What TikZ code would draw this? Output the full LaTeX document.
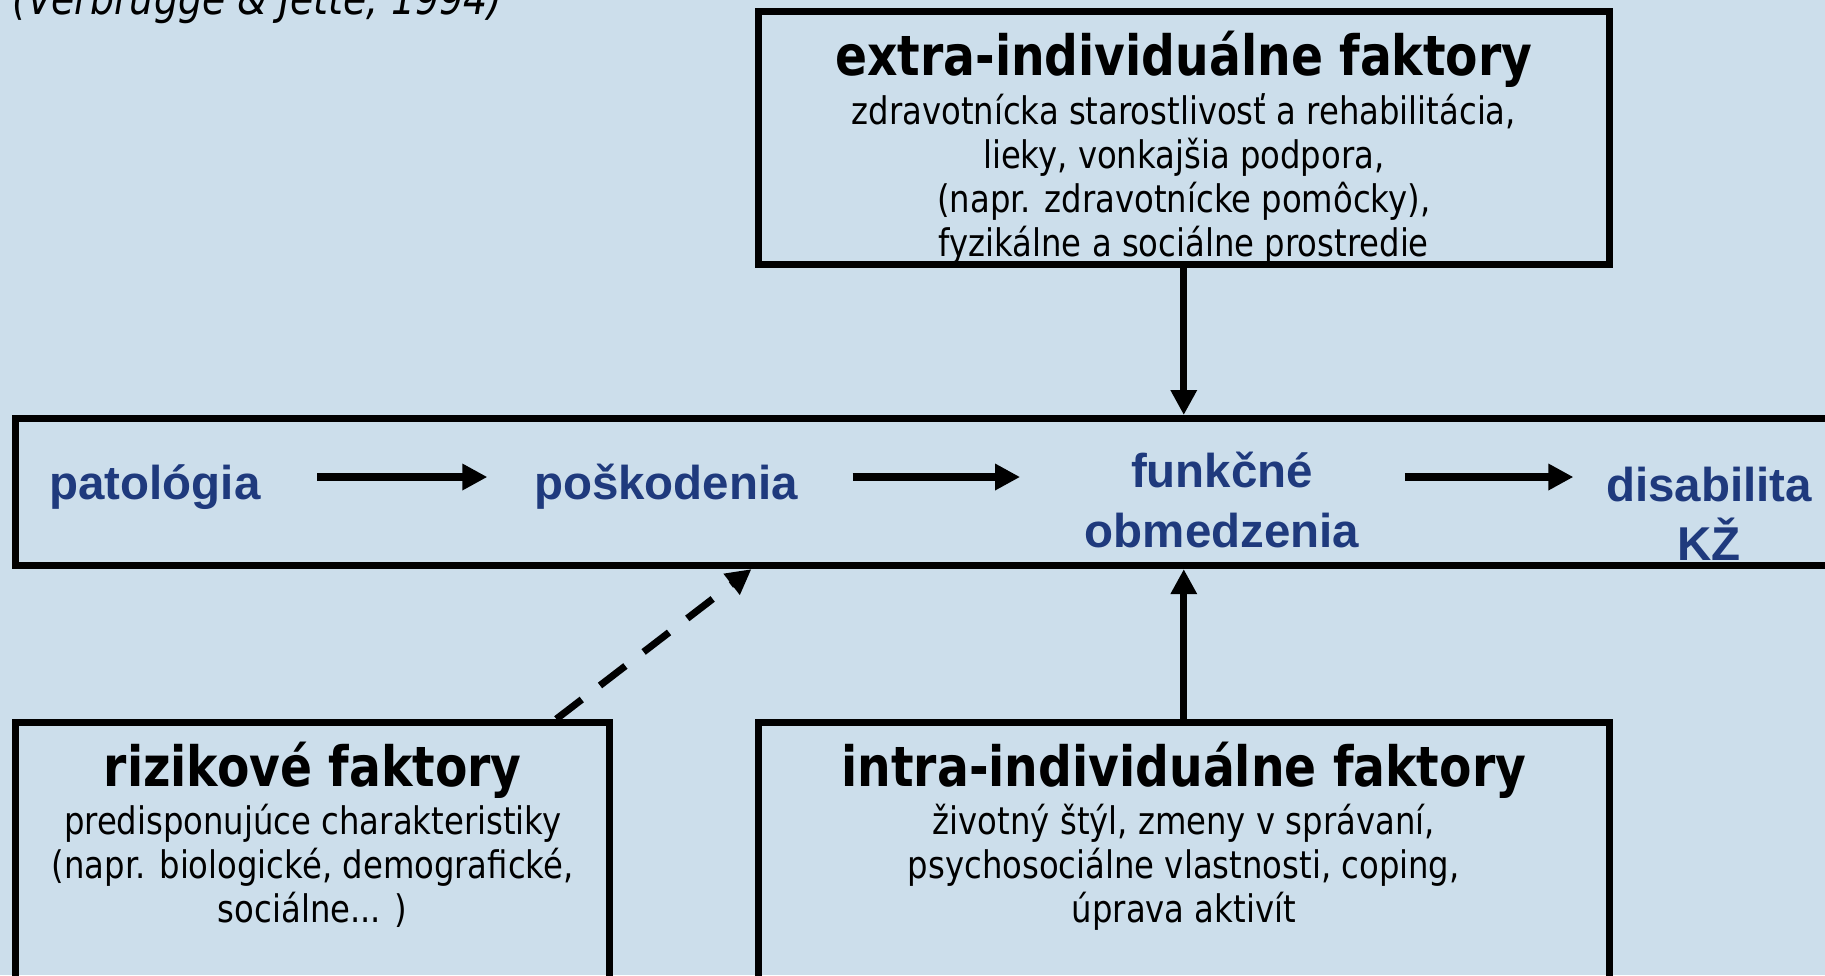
\documentclass[tikz,border=0pt]{standalone}
\usepackage{fontspec}
\setmainfont{DejaVu Sans}[FakeStretch=0.85]
\newfontfamily\labelfont{Liberation Sans}
\definecolor{slidebg}{HTML}{CCDEEB}
\definecolor{labelnavy}{HTML}{1F3A7D}
\usetikzlibrary{arrows.meta, positioning}
\tikzset{
	fbox/.style={draw=black, line width=2pt, align=center, inner xsep=0pt,
		inner ysep=0.2cm, font=\fontsize{10.8}{12.5}\selectfont},
	flabel/.style={text=labelnavy, align=center, inner sep=0pt,
		font=\labelfont\bfseries\fontsize{13.5}{16.8}\selectfont},
	farr/.style={-{Triangle[length=2.5mm, width=2.5mm]}, line width=2pt}
}
\newcommand{\boxtitle}[1]{{\fontsize{15.8}{18}\selectfont\bfseries #1}}

\begin{document}
\begin{tikzpicture}[x=0.01cm, y=-0.01cm]
	\useasboundingbox (0,0) rectangle (1825,975);
	\clip (0,0) rectangle (1825,975);
	\fill[slidebg] (0,0) rectangle (1825,975);
	\node[anchor=base west, inner sep=0pt, font=\itshape\fontsize{12.7}{15}\selectfont] (cite) at (12,14) {(Verbrugge \& Jette, 1994)};
	\node[fbox, inner ysep=0pt, anchor=north west, minimum width=8.5cm, minimum height=2.53cm] (extra) at (755,8) {\boxtitle{\rule{0pt}{18pt}extra-individuálne faktory}\\[1.5pt]
		zdravotnícka starostlivosť a rehabilitácia,\\ lieky, vonkajšia podpora,\\
		(napr. zdravotnícke pomôcky),\\ fyzikálne a sociálne prostredie};
	\node[draw, line width=2pt, anchor=north west, minimum width=19cm, minimum height=1.47cm] (band) at (12,415) {};
	\node[flabel] (pat) at (155,487) {patológia};
	\node[flabel] (posk) at (666,487) {poškodenia};
	\node[flabel] (funk) at (1222,500) {funkčné\\obmedzenia};
	\node[flabel] (dis) at (1709,514) {disabilita\\KŽ};
	\node[fbox, anchor=north west, minimum width=5.94cm, text depth=1.5cm] (risk) at (12,719) {\boxtitle{rizikové faktory}\\[1pt]
		predisponujúce charakteristiky\\ (napr. biologické,  demografické,\\ sociálne... )};
	\node[fbox, anchor=north west, minimum width=8.5cm, text depth=1.5cm] (intra) at (755,719) {\boxtitle{intra-individuálne faktory}\\[1pt]
		životný štýl, zmeny v správaní,\\ psychosociálne vlastnosti, coping,\\ úprava aktivít};
	\draw[farr, shorten <=5.6mm, shorten >=4.6mm] ([yshift=1mm]pat.east) -- ([yshift=1mm]posk.west);
	\draw[farr, shorten <=5.4mm, shorten >=6.4mm] ([yshift=1mm]posk.east) -- ([yshift=1mm]posk.east -| funk.west);
	\draw[farr, shorten <=4.5mm, shorten >=3.2mm] ([yshift=1mm]posk.east -| funk.east) -- ([yshift=1mm]posk.east -| dis.west);
	\draw[farr] (extra.south) -- (extra.south |- band.north);
	\draw[farr] (intra.north) -- (intra.north |- band.south);
	\draw[farr, dash pattern=on 3.2mm off 2.3mm] ([xshift=-5.7mm]risk.north east) -- ([xshift=7.39cm]band.south west);
\end{tikzpicture}
\end{document}
